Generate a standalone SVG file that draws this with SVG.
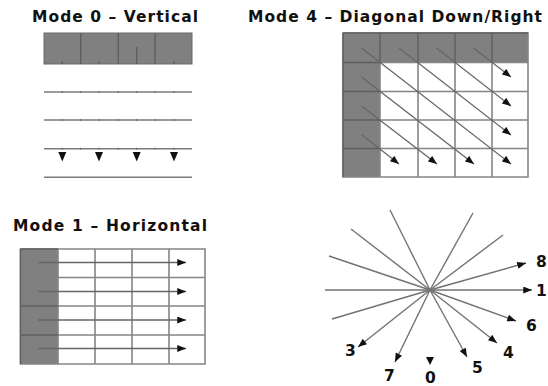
<svg xmlns="http://www.w3.org/2000/svg" width="548" height="386" viewBox="0 0 548 386">
<style>
.title{font-family:"DejaVu Sans","Liberation Sans",sans-serif;font-weight:bold;font-size:15.5px;fill:#111}
.num{font-family:"DejaVu Sans","Liberation Sans",sans-serif;font-weight:bold;font-size:15.5px;fill:#111}
.shade{fill:#808080}
.grid{fill:none;stroke:#858585;stroke-width:1.6}
.dgrid{fill:none;stroke:#5e5e5e;stroke-width:1.4}
.hline{fill:none;stroke:#7a7a7a;stroke-width:1.6}
.arr{fill:none;stroke:#666;stroke-width:1.3;marker-end:url(#ah)}
.ray{fill:none;stroke:#727272;stroke-width:1.4}
.rayA{fill:none;stroke:#727272;stroke-width:1.4;marker-end:url(#ah)}
.head{fill:#111}
</style>
<defs>
<marker id="ah" viewBox="0 0 10 8" refX="10" refY="4" markerWidth="10" markerHeight="7" markerUnits="userSpaceOnUse" orient="auto">
<path d="M0,0 L10,4 L0,8 Z" fill="#111"/>
</marker>
</defs>
<rect width="548" height="386" fill="#fff"/>

<!-- Titles -->
<text class="title" x="32" y="22" textLength="166" lengthAdjust="spacing">Mode 0 – Vertical</text>
<text class="title" x="248" y="22" textLength="294" lengthAdjust="spacing">Mode 4 – Diagonal Down/Right</text>
<text class="title" x="13" y="231" textLength="194" lengthAdjust="spacing">Mode 1 – Horizontal</text>

<!-- Mode 0 -->
<g id="mode0">
<rect class="shade" x="44" y="33" width="148" height="31" stroke="#6a6a6a" stroke-width="1"/>
<path class="dgrid" d="M80.7,33V64M118.3,33V64M155,33V64"/>
<path d="M62.3,61V64M99,61V64M136.7,47V64M174,61V64" stroke="#5a5a5a" stroke-width="1.2" fill="none"/>
<path class="hline" d="M44,92H192M44,120H192M44,148.7H192M44,177.3H192"/>
<path d="M62.3,91V93M80.7,91V93M99,91V93M118.3,91V93M136.7,91V93M155,91V93M174,91V93M62.3,119V121M80.7,119V121M99,119V121M118.3,119V121M136.7,119V121M155,119V121M174,119V121M62.3,147.7V149.7M80.7,147.7V149.7M99,147.7V149.7M118.3,147.7V149.7M136.7,147.7V149.7M155,147.7V149.7M174,147.7V149.7" stroke="#666" stroke-width="1" fill="none"/>
<path class="head" d="M58.3,152H66.3L62.3,161.5ZM95,152H103L99,161.5ZM132.7,152H140.7L136.7,161.5ZM170,152H178L174,161.5Z"/>
</g>

<!-- Mode 4 -->
<g id="mode4">
<rect x="343" y="33" width="185" height="144" fill="#fff"/>
<rect class="shade" x="343" y="33" width="185" height="29.5"/>
<rect class="shade" x="343" y="33" width="37" height="144"/>
<path class="grid" d="M343,33H528V177H343ZM380,33V177M418,33V177M455,33V177M492,33V177M343,62.5H528M343,91.5H528M343,120H528M343,148.5H528"/>
<path class="dgrid" d="M343,33H528M343,33V177M343,62.5H380M343,91.5H380M343,120H380M343,148.5H380M380,33V62.5M418,33V62.5M455,33V62.5M492,33V62.5"/>
</g>

<!-- Mode 1 -->
<g id="mode1">
<rect x="20.5" y="249" width="184.5" height="115" fill="#fff"/>
<rect class="shade" x="20.5" y="249" width="37.5" height="115"/>
<path class="grid" d="M20.5,249H205V364H20.5ZM58,249V364M95,249V364M132,249V364M169,249V364M58,277.5H205M20.5,306H205M20.5,335H205"/>
<path class="dgrid" d="M20.5,249V364M20.5,249H58M20.5,306H58M20.5,335H58"/>
</g>

<!-- Prediction directions -->
<g id="directions">
<path class="ray" d="M332,319L430,290"/>
<path class="ray" d="M325,290L430,290"/>
<path class="ray" d="M329,256L430,290"/>
<path class="ray" d="M351,229L430,290"/>
<path class="ray" d="M390,210L430,290"/>
<path class="ray" d="M473,213L430,290"/>
<path class="ray" d="M503,235L430,290"/>
<path class="head" d="M426,357H434L430,365Z"/>
<text class="num" x="536" y="267">8</text>
<text class="num" x="536" y="296">1</text>
<text class="num" x="526" y="331">6</text>
<text class="num" x="503" y="358">4</text>
<text class="num" x="345" y="356">3</text>
<text class="num" x="472" y="373">5</text>
<text class="num" x="384" y="381">7</text>
<text class="num" x="425" y="383">0</text>
</g>

<!-- Connectors -->
<g id="connectors">
<!-- Mode 4 diagonals -->
<path class="arr" d="M361.5,48L511,164"/>
<path class="arr" d="M399,48L511,135"/>
<path class="arr" d="M436.5,48L511,106"/>
<path class="arr" d="M473.5,48L511,77"/>
<path class="arr" d="M361.5,77L474,164"/>
<path class="arr" d="M361.5,106L437,164"/>
<path class="arr" d="M361.5,134.5L399,164"/>
<!-- Mode 1 horizontals -->
<path class="arr" d="M38,262.5H186"/>
<path class="arr" d="M38,291.5H186"/>
<path class="arr" d="M38,320H186"/>
<path class="arr" d="M38,348.5H186"/>
<!-- direction arrows -->
<path class="rayA" d="M430,290L526,263"/>
<path class="rayA" d="M430,290L532,290"/>
<path class="rayA" d="M430,290L516,321"/>
<path class="rayA" d="M430,290L497,343"/>
<path class="rayA" d="M430,290L467,357"/>
<path class="rayA" d="M430,290L395,362"/>
<path class="rayA" d="M430,290L358,347"/>
</g>
</svg>
